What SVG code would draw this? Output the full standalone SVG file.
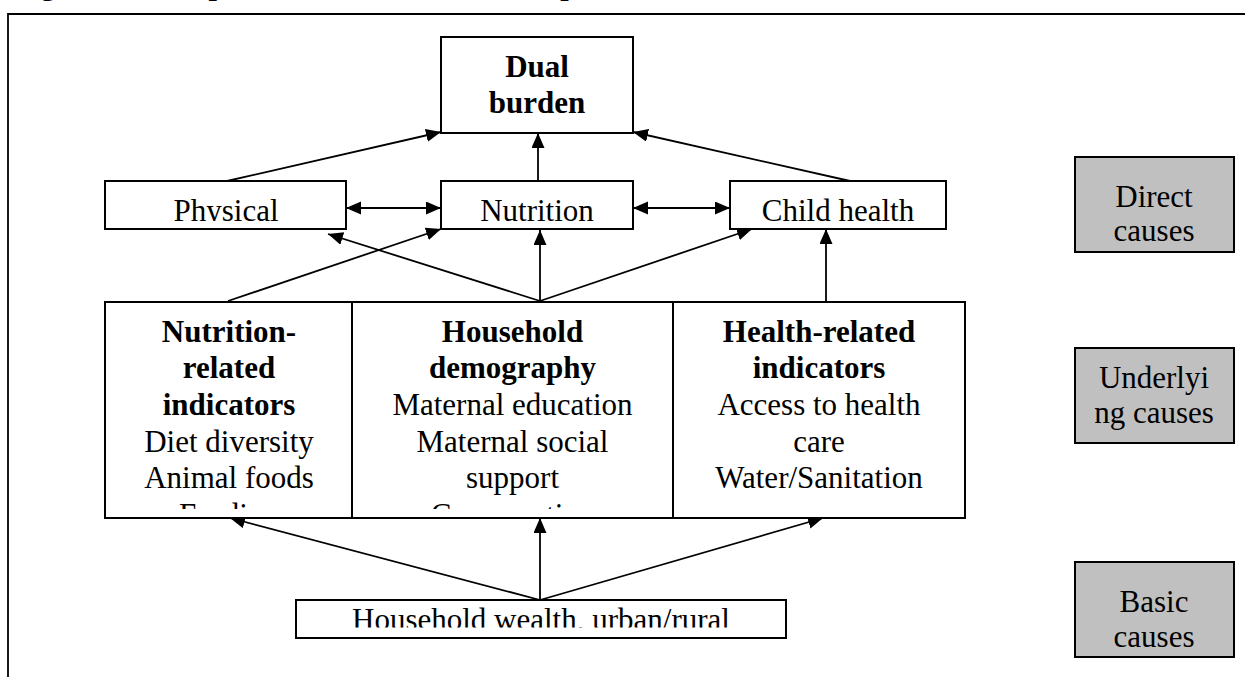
<svg xmlns="http://www.w3.org/2000/svg" width="1245" height="677" viewBox="0 0 1245 677">
<style>
.box{fill:#fff;stroke:#000;stroke-width:2}
.gray{fill:#c0c0c0;stroke:#000;stroke-width:2}
text{font-family:"Liberation Serif","Times New Roman",serif;font-size:31px;fill:#000;text-anchor:middle}
.b{font-weight:bold}
.ln{stroke:#000;stroke-width:1.8;fill:none}
</style>
<defs>
<marker id="ah" markerUnits="userSpaceOnUse" markerWidth="16" markerHeight="14" refX="15" refY="6.5" orient="auto-start-reverse" viewBox="0 0 16 14"><path d="M0,0 L15,6.5 L0,13 z" fill="#000"/></marker>
<clipPath id="cP"><rect x="105" y="181" width="241" height="40"/></clipPath>
<clipPath id="cN"><rect x="441" y="181" width="192" height="40"/></clipPath>
<clipPath id="cC"><rect x="730" y="181" width="216" height="40"/></clipPath>
<clipPath id="cU1"><rect x="105" y="302" width="247" height="207"/></clipPath>
<clipPath id="cU2"><rect x="352" y="302" width="321" height="207"/></clipPath>
<clipPath id="cU3"><rect x="673" y="302" width="292" height="207"/></clipPath>
<clipPath id="cW"><rect x="296" y="600" width="490" height="27.5"/></clipPath>
</defs>

<g id="title"><text class="b" x="14" y="-5" style="text-anchor:start;font-size:30px">Figure 1 Conceptual framework for development of dual burden households</text></g>
<g id="frame"><path class="ln" d="M8,677 L8,14 L1245,14" stroke-width="2"/></g>

<g id="connectors">
<line class="ln" x1="227" y1="181" x2="441" y2="132" marker-end="url(#ah)"/>
<line class="ln" x1="538" y1="181" x2="538" y2="133" marker-end="url(#ah)"/>
<line class="ln" x1="850" y1="181" x2="633" y2="132" marker-end="url(#ah)"/>
<line class="ln" x1="346" y1="208" x2="441" y2="208" marker-start="url(#ah)" marker-end="url(#ah)"/>
<line class="ln" x1="633" y1="208" x2="730" y2="208" marker-start="url(#ah)" marker-end="url(#ah)"/>
<line class="ln" x1="540" y1="301" x2="328" y2="234" marker-end="url(#ah)"/>
<line class="ln" x1="540" y1="301" x2="540" y2="230" marker-end="url(#ah)"/>
<line class="ln" x1="540" y1="301" x2="752" y2="229" marker-end="url(#ah)"/>
<line class="ln" x1="228" y1="301" x2="441" y2="229" marker-end="url(#ah)"/>
<line class="ln" x1="826" y1="301" x2="826" y2="229" marker-end="url(#ah)"/>
<line class="ln" x1="540" y1="600" x2="230" y2="518" marker-end="url(#ah)"/>
<line class="ln" x1="540" y1="600" x2="540" y2="518" marker-end="url(#ah)"/>
<line class="ln" x1="540" y1="600" x2="823" y2="518" marker-end="url(#ah)"/>
</g>

<g id="dual-burden">
<rect class="box" x="441" y="37" width="192" height="96"/>
<text class="b" x="537" y="77">Dual</text>
<text class="b" x="537" y="113">burden</text>
</g>

<g id="physical">
<rect class="box" x="105" y="181" width="241" height="48"/>
<text x="226" y="221" clip-path="url(#cP)">Physical</text>
</g>
<g id="nutrition">
<rect class="box" x="441" y="181" width="192" height="48"/>
<text x="537" y="221" clip-path="url(#cN)">Nutrition</text>
</g>
<g id="child-health">
<rect class="box" x="730" y="181" width="216" height="48"/>
<text x="838" y="221" clip-path="url(#cC)">Child health</text>
</g>

<g id="nutrition-related">
<rect class="box" x="105" y="302" width="247" height="216"/>
<g clip-path="url(#cU1)">
<text class="b" x="229" y="342">Nutrition-</text>
<text class="b" x="229" y="378">related</text>
<text class="b" x="229" y="415">indicators</text>
<text x="229" y="452">Diet diversity</text>
<text x="229" y="488">Animal foods</text>
<text x="229" y="525">Feeding</text>
</g>
</g>
<g id="household-demography">
<rect class="box" x="352" y="302" width="321" height="216"/>
<g clip-path="url(#cU2)">
<text class="b" x="512.5" y="342">Household</text>
<text class="b" x="512.5" y="378">demography</text>
<text x="512.5" y="415">Maternal education</text>
<text x="512.5" y="452">Maternal social</text>
<text x="512.5" y="488">support</text>
<text x="512.5" y="525">Co-operation</text>
</g>
</g>
<g id="health-related">
<rect class="box" x="673" y="302" width="292" height="216"/>
<g clip-path="url(#cU3)">
<text class="b" x="819" y="342">Health-related</text>
<text class="b" x="819" y="378">indicators</text>
<text x="819" y="415">Access to health</text>
<text x="819" y="452">care</text>
<text x="819" y="488">Water/Sanitation</text>
</g>
</g>

<g id="household-wealth">
<rect class="box" x="296" y="600" width="490" height="38"/>
<text x="541" y="630" clip-path="url(#cW)">Household wealth, urban/rural</text>
</g>

<g id="direct-causes">
<rect class="gray" x="1075" y="157" width="159" height="95"/>
<text x="1154" y="207">Direct</text>
<text x="1154" y="241">causes</text>
</g>
<g id="underlying-causes">
<rect class="gray" x="1075" y="348" width="159" height="95"/>
<text x="1154" y="388">Underlyi</text>
<text x="1154" y="423">ng causes</text>
</g>
<g id="basic-causes">
<rect class="gray" x="1075" y="562" width="159" height="95"/>
<text x="1154" y="612">Basic</text>
<text x="1154" y="647">causes</text>
</g>
</svg>
